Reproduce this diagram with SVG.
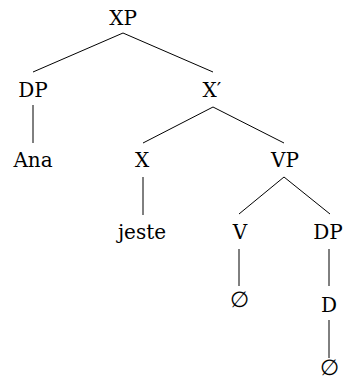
<svg xmlns="http://www.w3.org/2000/svg" width="343" height="381" viewBox="0 0 343 381">
<style>
.e{stroke:#000;stroke-width:1;fill:none}
</style>
<rect width="343" height="381" fill="#fff"/>
<g id="connectors">
<line class="e" x1="123" y1="33" x2="33" y2="72"/>
<line class="e" x1="123" y1="33" x2="213" y2="72"/>
<line class="e" x1="33" y1="105" x2="33" y2="143"/>
<line class="e" x1="213" y1="107" x2="143" y2="143"/>
<line class="e" x1="213" y1="107" x2="284" y2="143"/>
<line class="e" x1="143" y1="177" x2="143" y2="215"/>
<line class="e" x1="284" y1="177" x2="239" y2="214"/>
<line class="e" x1="284" y1="177" x2="330" y2="214"/>
<line class="e" x1="239" y1="249" x2="239" y2="286"/>
<line class="e" x1="329" y1="249" x2="329" y2="286"/>
<line class="e" x1="329" y1="320" x2="329" y2="358"/>
</g>
<g font-family="'DejaVu Serif', 'Liberation Serif', serif" font-size="20" text-anchor="middle" fill="#000">
<g id="XP"><text x="123" y="25">XP</text></g>
<g id="DP1"><text x="33" y="97">DP</text></g>
<g id="Xbar"><text x="212" y="97">X′</text></g>
<g id="Ana"><text x="33" y="167">Ana</text></g>
<g id="X"><text x="142" y="167">X</text></g>
<g id="VP"><text x="285" y="167">VP</text></g>
<g id="jeste"><text x="142" y="239">jeste</text></g>
<g id="V"><text x="240" y="239">V</text></g>
<g id="DP2"><text x="328" y="239">DP</text></g>
<g id="null1"><text x="239" y="307" font-size="22">∅</text></g>
<g id="D"><text x="329" y="312">D</text></g>
<g id="null2"><text x="329" y="375" font-size="22">∅</text></g>
</g>
</svg>
